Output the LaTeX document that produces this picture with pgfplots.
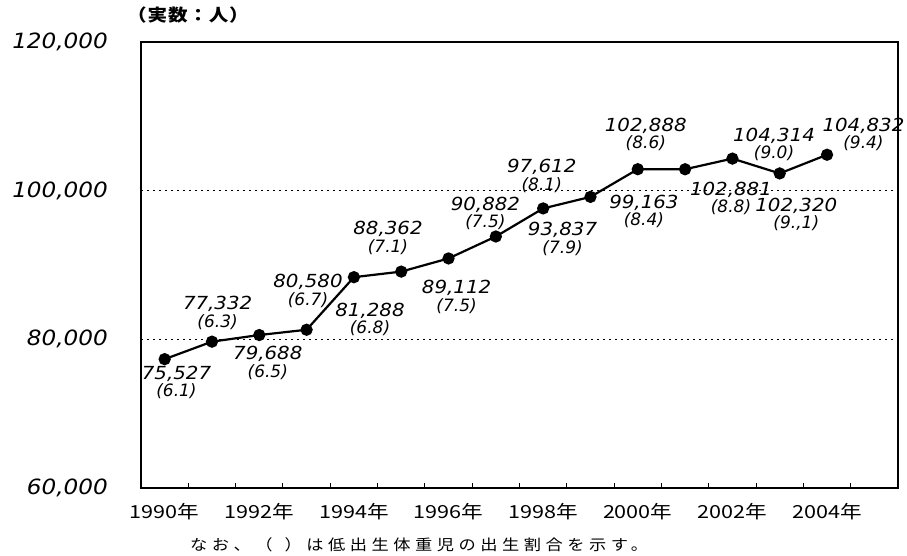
\documentclass[border=0pt]{standalone}
\usepackage{fontspec}
\usepackage{pgfplots}
\pgfplotsset{compat=1.18}
\setmainfont{DejaVu Sans}
\newfontfamily\widesans{DejaVu Sans}[FakeStretch=1.1]
\newfontfamily\cjktitle{Noto Sans CJK JP}[FakeStretch=1.15, LetterSpace=5]
\newfontfamily\cjktick{Noto Sans CJK JP}[FakeStretch=1.2]
\newfontfamily\cjknote{Noto Sans CJK JP}[FakeStretch=1.15, LetterSpace=30]
% value label: count on the first line, share (%) on the second
\newcommand{\vlab}[2]{{\widesans\itshape\fontsize{18}{17.5}\selectfont #1}\\{\fontsize{17}{17.5}\selectfont\itshape #2}}
\tikzset{lab/.style={font=\fontsize{18}{17.5}\selectfont, align=center, inner sep=0pt}}

\begin{document}
\begin{tikzpicture}
\useasboundingbox (0,0) rectangle (907pt,555pt);
\begin{axis}[
  at={(141pt,67pt)}, anchor=south west,
  width=757pt, height=446pt, scale only axis,
  xmin=1989.5, xmax=2005.5, ymin=60000, ymax=120000,
  scaled y ticks=false,
  xtick={1990,1992,...,2004},
  xticklabels={1990年,1992年,1994年,1996年,1998年,2000年,2002年,2004年},
  minor xtick={1990.5,1991.5,...,2004.5},
  major tick length=0pt, minor tick length=5pt, tick align=inside,
  xtick pos=bottom, ytick pos=left,
  ytick={60000,80000,100000,120000},
  yticklabels={{60,000},{80,000},{100,000},{120,000}},
  yticklabel style={font=\widesans\itshape\fontsize{21}{21}\selectfont, inner sep=0pt, anchor=east, xshift=-33pt},
  xticklabel style={font=\cjktick\fontsize{18}{18}\selectfont, inner sep=0pt, anchor=north, yshift=-15pt},
  ymajorgrids,
  major grid style={black, line width=1.5pt, dash pattern=on 2pt off 4pt},
  axis line style={line width=1.3pt},
  minor tick style={black, line width=1pt},
  clip=false,
]
% number of low-birth-weight births per year
\addplot[black, line width=2.2pt, mark=*, mark size=5pt] coordinates {
  (1990,77332) (1991,79688) (1992,80580) (1993,81288) (1994,88362)
  (1995,89112) (1996,90882) (1997,93837) (1998,97612) (1999,99163)
  (2000,102888) (2001,102881) (2002,104314) (2003,102320) (2004,104832)
};
% value labels with the share in parentheses
\node[lab] at (axis cs:1990.25,74172)  {\vlab{75,527}{(6.1)}};
\node[lab] at (axis cs:1991.12,83576)  {\vlab{77,332}{(6.3)}};
\node[lab] at (axis cs:1992.18,76821)  {\vlab{79,688}{(6.5)}};
\node[lab] at (axis cs:1993.03,86490)  {\vlab{80,580}{(6.7)}};
\node[lab] at (axis cs:1994.34,82649)  {\vlab{81,288}{(6.8)}};
\node[lab] at (axis cs:1994.72,93642)  {\vlab{88,362}{(7.1)}};
\node[lab] at (axis cs:1996.17,85695)  {\vlab{89,112}{(7.5)}};
\node[lab] at (axis cs:1996.78,96954)  {\vlab{90,882}{(7.5)}};
\node[lab] at (axis cs:1998.41,93510)  {\vlab{93,837}{(7.9)}};
\node[lab] at (axis cs:1997.97,101986) {\vlab{97,612}{(8.1)}};
\node[lab] at (axis cs:2000.13,97219)  {\vlab{99,163}{(8.4)}};
\node[lab] at (axis cs:2000.17,107550) {\vlab{102,888}{(8.6)}};
\node[lab] at (axis cs:2001.97,98940)  {\vlab{102,881}{(8.8)}};
\node[lab] at (axis cs:2002.88,106225) {\vlab{104,314}{(9.0)}};
\node[lab] at (axis cs:2003.35,96821)  {\vlab{102,320}{(9.,1)}};
\node[lab] at (axis cs:2004.77,107550) {\vlab{104,832}{(9.4)}};
\end{axis}
\node[font=\cjktitle\bfseries\fontsize{17}{17}\selectfont, inner sep=0pt] at (188pt,540pt) {（実数：人）};
\node[font=\cjknote\fontsize{15}{15}\selectfont, inner sep=0pt, anchor=west] at (190pt,10pt) {なお、（\hspace{12pt}）は低出生体重児の出生割合を示す。};
\end{tikzpicture}
\end{document}
